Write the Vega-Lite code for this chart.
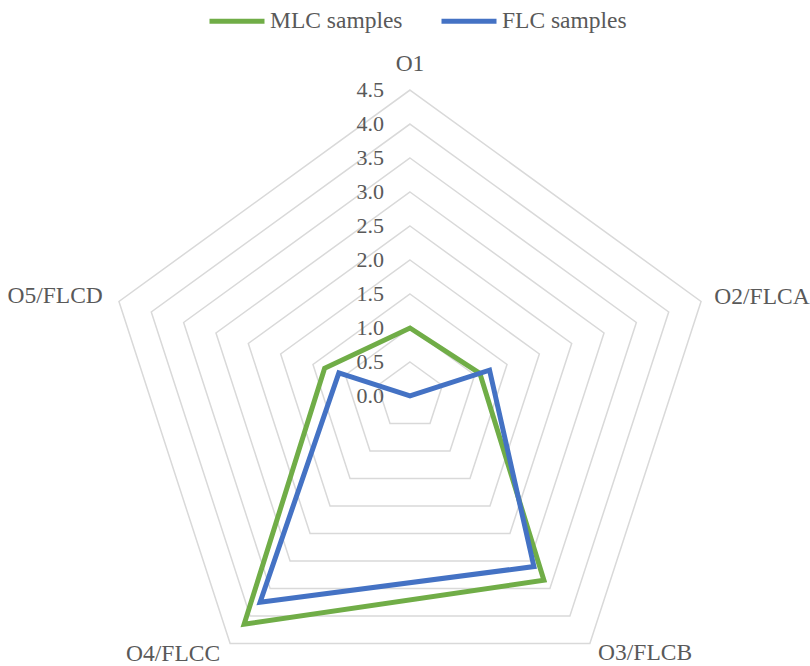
{
  "$schema": "https://vega.github.io/schema/vega-lite/v6.json",
  "width": 810,
  "height": 666,
  "autosize": {"type": "none"},
  "padding": 0,
  "background": "white",
  "config": {
    "view": {"stroke": null},
    "font": "Liberation Serif",
    "text": {"font": "Liberation Serif"},
    "legend": {"labelFont": "Liberation Serif", "titleFont": "Liberation Serif"}
  },
  "datasets": {
    "series": [
      {"series": "MLC samples", "axis": "O1", "value": 1.0},
      {"series": "MLC samples", "axis": "O2/FLCA", "value": 1.08},
      {"series": "MLC samples", "axis": "O3/FLCB", "value": 3.35},
      {"series": "MLC samples", "axis": "O4/FLCC", "value": 4.15},
      {"series": "MLC samples", "axis": "O5/FLCD", "value": 1.32},
      {"series": "FLC samples", "axis": "O1", "value": 0.0},
      {"series": "FLC samples", "axis": "O2/FLCA", "value": 1.23},
      {"series": "FLC samples", "axis": "O3/FLCB", "value": 3.1},
      {"series": "FLC samples", "axis": "O4/FLCC", "value": 3.75},
      {"series": "FLC samples", "axis": "O5/FLCD", "value": 1.1}
    ],
    "levels": [
      {"level": 0.0, "k": [0, 1, 2, 3, 4]},
      {"level": 0.5, "k": [0, 1, 2, 3, 4]},
      {"level": 1.0, "k": [0, 1, 2, 3, 4]},
      {"level": 1.5, "k": [0, 1, 2, 3, 4]},
      {"level": 2.0, "k": [0, 1, 2, 3, 4]},
      {"level": 2.5, "k": [0, 1, 2, 3, 4]},
      {"level": 3.0, "k": [0, 1, 2, 3, 4]},
      {"level": 3.5, "k": [0, 1, 2, 3, 4]},
      {"level": 4.0, "k": [0, 1, 2, 3, 4]},
      {"level": 4.5, "k": [0, 1, 2, 3, 4]}
    ],
    "axes": [
      {"axis": "O1", "k": 0},
      {"axis": "O2/FLCA", "k": 1},
      {"axis": "O3/FLCB", "k": 2},
      {"axis": "O4/FLCC", "k": 3},
      {"axis": "O5/FLCD", "k": 4}
    ]
  },
  "layer": [
    {
      "data": {"name": "levels"},
      "transform": [
        {"filter": "datum.level > 0"},
        {"flatten": ["k"]},
        {"calculate": "PI/2 - datum.k*2*PI/5", "as": "ang"},
        {"calculate": "datum.level*cos(datum.ang)", "as": "px"},
        {"calculate": "datum.level*sin(datum.ang)", "as": "py"}
      ],
      "mark": {"type": "line", "interpolate": "linear-closed", "stroke": "#D9D9D9", "strokeWidth": 1.5},
      "encoding": {
        "x": {"field": "px", "type": "quantitative", "scale": {"domain": [-6.029, 5.882], "nice": false, "zero": false}, "axis": null},
        "y": {"field": "py", "type": "quantitative", "scale": {"domain": [-3.971, 5.824], "nice": false, "zero": false}, "axis": null},
        "detail": {"field": "level", "type": "nominal"},
        "order": {"field": "k", "type": "quantitative"}
      }
    },
    {
      "data": {"name": "levels"},
      "mark": {"type": "text", "align": "right", "baseline": "middle", "dx": -26, "fontSize": 22, "color": "#595959", "font": "Liberation Serif"},
      "encoding": {
        "x": {"datum": 0, "type": "quantitative"},
        "y": {"field": "level", "type": "quantitative"},
        "text": {"field": "level", "type": "quantitative", "format": ".1f"}
      }
    },
    {
      "data": {"name": "series"},
      "transform": [
        {"lookup": "axis", "from": {"data": {"name": "axes"}, "key": "axis", "fields": ["k"]}},
        {"calculate": "PI/2 - datum.k*2*PI/5", "as": "ang"},
        {"calculate": "datum.value*cos(datum.ang)", "as": "px"},
        {"calculate": "datum.value*sin(datum.ang)", "as": "py"}
      ],
      "mark": {"type": "line", "interpolate": "linear-closed", "strokeWidth": 5, "strokeCap": "round"},
      "encoding": {
        "x": {"field": "px", "type": "quantitative"},
        "y": {"field": "py", "type": "quantitative"},
        "order": {"field": "k", "type": "quantitative"},
        "color": {
          "field": "series",
          "type": "nominal",
          "sort": ["MLC samples", "FLC samples"],
          "scale": {"domain": ["MLC samples", "FLC samples"], "range": ["#70AD47", "#4472C4"]},
          "legend": {
            "orient": "none",
            "legendX": 207,
            "legendY": -9,
            "direction": "horizontal",
            "title": null,
            "symbolType": "stroke",
            "symbolSize": 3025,
            "symbolStrokeWidth": 5,
            "labelFontSize": 23.5,
            "labelColor": "#595959",
            "labelFont": "Liberation Serif",
            "labelOffset": 3,
            "columnPadding": 28
          }
        }
      }
    },
    {
      "data": {"name": "axes"},
      "transform": [
        {"filter": "datum.k == 0"},
        {"calculate": "PI/2 - datum.k*2*PI/5", "as": "ang"},
        {"calculate": "4.706*cos(datum.ang)", "as": "px"},
        {"calculate": "4.706*sin(datum.ang)", "as": "py"}
      ],
      "mark": {"type": "text", "align": "center", "baseline": "bottom", "fontSize": 23.5, "color": "#595959", "font": "Liberation Serif"},
      "encoding": {
        "x": {"field": "px", "type": "quantitative"},
        "y": {"field": "py", "type": "quantitative"},
        "text": {"field": "axis", "type": "nominal"}
      }
    },
    {
      "data": {"name": "axes"},
      "transform": [
        {"filter": "datum.k == 1"},
        {"calculate": "PI/2 - datum.k*2*PI/5", "as": "ang"},
        {"calculate": "4.706*cos(datum.ang)", "as": "px"},
        {"calculate": "4.706*sin(datum.ang)", "as": "py"}
      ],
      "mark": {"type": "text", "align": "left", "baseline": "middle", "fontSize": 23.5, "color": "#595959", "font": "Liberation Serif"},
      "encoding": {
        "x": {"field": "px", "type": "quantitative"},
        "y": {"field": "py", "type": "quantitative"},
        "text": {"field": "axis", "type": "nominal"}
      }
    },
    {
      "data": {"name": "axes"},
      "transform": [
        {"filter": "datum.k == 2"},
        {"calculate": "PI/2 - datum.k*2*PI/5", "as": "ang"},
        {"calculate": "4.706*cos(datum.ang)", "as": "px"},
        {"calculate": "4.706*sin(datum.ang)", "as": "py"}
      ],
      "mark": {"type": "text", "align": "left", "baseline": "middle", "dy": -2, "fontSize": 23.5, "color": "#595959", "font": "Liberation Serif"},
      "encoding": {
        "x": {"field": "px", "type": "quantitative"},
        "y": {"field": "py", "type": "quantitative"},
        "text": {"field": "axis", "type": "nominal"}
      }
    },
    {
      "data": {"name": "axes"},
      "transform": [
        {"filter": "datum.k == 3"},
        {"calculate": "PI/2 - datum.k*2*PI/5", "as": "ang"},
        {"calculate": "4.75*cos(datum.ang)", "as": "px"},
        {"calculate": "4.75*sin(datum.ang)", "as": "py"}
      ],
      "mark": {"type": "text", "align": "right", "baseline": "middle", "dy": -3, "fontSize": 23.5, "color": "#595959", "font": "Liberation Serif"},
      "encoding": {
        "x": {"field": "px", "type": "quantitative"},
        "y": {"field": "py", "type": "quantitative"},
        "text": {"field": "axis", "type": "nominal"}
      }
    },
    {
      "data": {"name": "axes"},
      "transform": [
        {"filter": "datum.k == 4"},
        {"calculate": "PI/2 - datum.k*2*PI/5", "as": "ang"},
        {"calculate": "4.75*cos(datum.ang)", "as": "px"},
        {"calculate": "4.75*sin(datum.ang)", "as": "py"}
      ],
      "mark": {"type": "text", "align": "right", "baseline": "middle", "fontSize": 23.5, "color": "#595959", "font": "Liberation Serif"},
      "encoding": {
        "x": {"field": "px", "type": "quantitative"},
        "y": {"field": "py", "type": "quantitative"},
        "text": {"field": "axis", "type": "nominal"}
      }
    }
  ]
}
